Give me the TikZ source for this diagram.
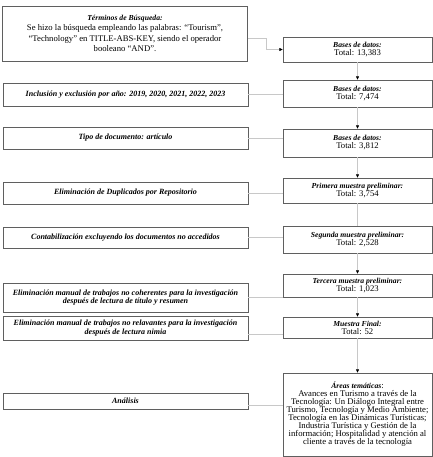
\documentclass[tikz,border=0pt]{standalone}
\usepackage{fontspec}
\setmainfont{Liberation Serif}
\usepackage{xcolor}
\definecolor{borde}{HTML}{5F5F5F}
\definecolor{enlace}{HTML}{C8C8C8}
\usetikzlibrary{positioning,arrows.meta}
\begin{document}
\begin{tikzpicture}[
  x=1.5pt, y=-1.5pt,
  font=\fontsize{13}{12}\selectfont,
  caja/.style={rectangle, draw=borde, line width=1.1pt, fill=white, minimum width=367.5pt, align=center, inner sep=1mm},
  filtro/.style={caja, font=\fontsize{12}{13}\selectfont\bfseries\itshape},
  cajader/.style={caja, minimum width=223.5pt},
  linea/.style={draw=enlace, line width=0.9pt},
  flecha/.style={linea, -{Triangle[length=5pt, width=4.5pt, color=black]}}
]
\newcommand{\encab}[1]{{\fontsize{11.5}{12}\selectfont\bfseries\itshape #1}}
\useasboundingbox (0,0) rectangle (433,457);
\node[caja, minimum height=82.5pt, font=\fontsize{13}{15.5}\selectfont] (t0) at (125,33.5) {\encab{Términos de Búsqueda:}\\ Se hizo la búsqueda empleando las palabras: “Tourism”,\\ “Technology” en TITLE-ABS-KEY, siendo el operador\\ booleano “AND”.};
\node[cajader, minimum height=37.5pt] (r1) at (357.5,49.5) {\encab{Bases de datos:}\\ Total: 13,383};
\node[filtro, minimum height=34.5pt] (l2) at (125.5,94.5) {Inclusión y exclusión por año: 2019, 2020, 2021, 2022, 2023};
\node[cajader, minimum height=40.5pt] (r2) at (357.5,93.5) {\encab{Bases de datos:}\\ Total: 7,474};
\node[filtro, minimum height=33pt] (l3) at (125.5,138) {Tipo de documento: artículo};
\node[cajader, minimum height=42pt] (r3) at (357.5,143) {\encab{Bases de datos:}\\ Total: 3,812};
\node[filtro, minimum height=33pt] (l4) at (125.5,193) {Eliminación de Duplicados por Repositorio};
\node[cajader, minimum height=37.5pt] (r4) at (357.5,190.5) {\encab{Primera muestra preliminar:}\\ Total: 3,754};
\node[filtro, minimum height=31.5pt] (l5) at (125.5,237.5) {Contabilización excluyendo los documentos no accedidos};
\node[cajader, minimum height=40.5pt] (r5) at (357.5,239.5) {\encab{Segunda muestra preliminar:}\\ Total: 2,528};
\node[cajader, minimum height=34.5pt] (r6) at (357.5,285.5) {\encab{Tercera muestra preliminar:}\\ Total: 1,023};
\node[filtro, minimum height=43.5pt] (l6) at (125.5,297.5) {Eliminación manual de trabajos no coherentes para la investigación\\ después de lectura de título y resumen};
\node[cajader, minimum height=31.5pt] (r7) at (357.5,327.5) {\encab{Muestra Final:}\\ Total: 52};
\node[filtro, minimum height=36pt] (l7) at (125.5,328) {Eliminación manual de trabajos no relavantes para la investigación\\ después de lectura nimia};
\node[cajader, minimum height=124.5pt] (r8) at (357.5,414.5) {\encab{Áreas temáticas}:\\ Avances en Turismo a través de la\\ Tecnología: Un Diálogo Integral entre\\ Turismo, Tecnología y Medio Ambiente;\\ Tecnología en las Dinámicas Turísticas;\\ Industria Turística y Gestión de la\\ información; Hospitalidad y atención al\\ cliente a través de la tecnología};
\node[filtro, minimum height=24pt] (l8) at (125.5,401) {Análisis};
\coordinate (codo) at (266,38);
\draw[flecha] (t0.east |- codo) -- (codo) |- (r1.west);
\draw[flecha] (r1) -- (r2);
\draw[flecha] (r2) -- (r3);
\draw[flecha] (r3) -- (r4);
\draw[linea] (r4) -- (r5);
\draw[flecha] (r5) -- (r6);
\draw[flecha] (r6) -- (r7);
\draw[flecha] (r7) -- (r8);
\draw[linea] (l2) -- (l2 -| r2.west);
\draw[linea] (l3) -- (l3 -| r3.west);
\draw[linea] (l4) -- (l4 -| r4.west);
\draw[linea] (l5) -- (l5 -| r5.west);
\draw[linea] (l6.east) -- (l6.east -| r6.west);
\draw[linea] ([yshift=-10pt]l7.east) -- ([yshift=-10pt]l7.east -| r7.west);
\draw[linea] ([yshift=-7pt]l8.east) -- ([yshift=-7pt]l8.east -| r8.west);
\end{tikzpicture}
\end{document}
